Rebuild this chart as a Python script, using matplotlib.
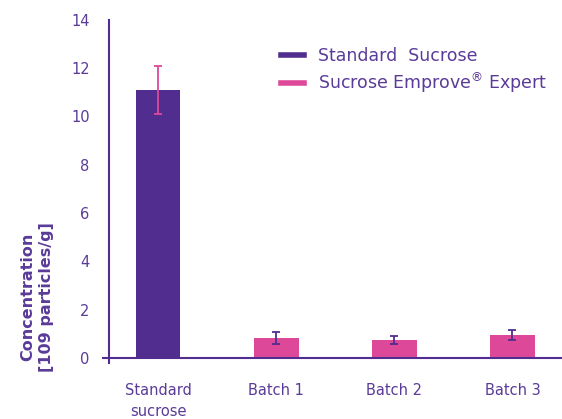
import numpy as np
import matplotlib.pyplot as plt
from matplotlib.lines import Line2D

categories = ["Standard\nsucrose", "Batch 1", "Batch 2", "Batch 3"]
values = [11.1, 0.83, 0.75, 0.95]
errors = [1.0, 0.23, 0.17, 0.19]
series = ["Standard  Sucrose", "Sucrose Emprove$^{\u00ae}$ Expert"]

purple = "#512d8f"
pink = "#de4899"
text_c = "#5a3b98"

bar_colors = [purple, pink, pink, pink]
err_colors = [pink, purple, purple, purple]

fig = plt.figure(figsize=(5.62, 4.19), dpi=100)
ax = fig.add_axes([0.194, 0.1456, 0.806, 0.807])

x = np.arange(len(categories))
ax.bar(x, values, width=0.38, color=bar_colors, zorder=2)
for xi, v, e, c in zip(x, values, errors, err_colors):
    ax.errorbar(xi, v, yerr=e, color=c, capsize=3, elinewidth=1.3, capthick=1.3, zorder=3)

ax.set_xlim(-0.415, 3.42)
ax.set_ylim(0, 14)
ax.set_yticks(range(0, 15, 2))
ax.set_xticks(x)
ax.set_xticklabels(categories, linespacing=1.5)
ax.tick_params(length=0, colors=text_c, labelsize=10.5)
ax.tick_params(axis="y", pad=14)
ax.tick_params(axis="x", pad=18)

for s in ["top", "right"]:
    ax.spines[s].set_visible(False)
for s in ["left", "bottom"]:
    ax.spines[s].set_color(purple)
    ax.spines[s].set_linewidth(1.5)
ax.spines["bottom"].set_bounds(-0.465, 3.42)
ax.spines["left"].set_bounds(-0.2, 14)

fig.text(0.066, 0.292, "Concentration\n[109 particles/g]", rotation=90,
         ha="center", va="center", color=text_c, fontsize=11.5, fontweight="bold",
         linespacing=1.25)

handles = [Line2D([], [], color=purple, lw=4), Line2D([], [], color=pink, lw=4)]
leg = fig.legend(handles, series, loc="upper left", bbox_to_anchor=(281 / 562, 1 - 47 / 419),
                 frameon=False, fontsize=12.5, handlelength=1.35, handletextpad=0.8,
                 labelspacing=0.32, borderpad=0, borderaxespad=0)
for t in leg.get_texts():
    t.set_color(text_c)

fig.savefig("out.png", dpi=100)
